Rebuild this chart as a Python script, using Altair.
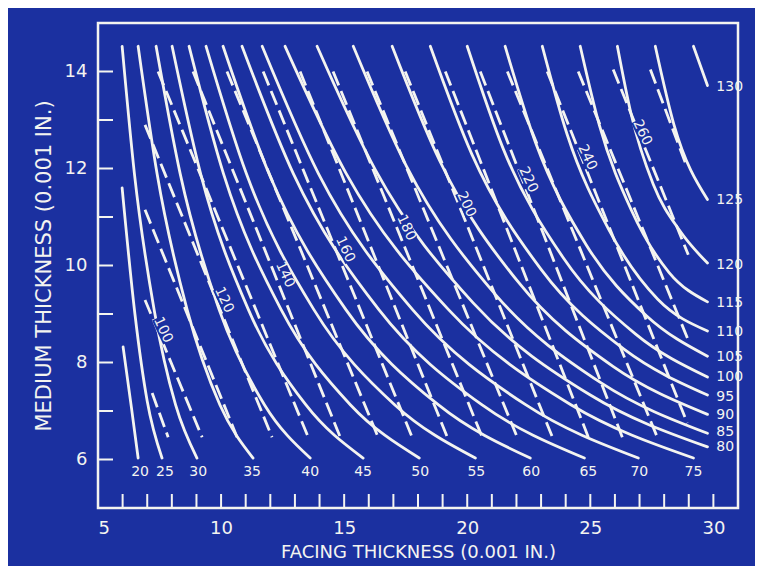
import altair as alt
import pandas as pd

BG = "#1b30a0"
FG = "#f4f4f0"
FONT = "DejaVu Sans"

# ---- solid curves (facing F, medium M) ----
S20 = [(6.02, 8.32), (6.35, 7.1), (6.63, 6.03)]
S25 = [(5.98, 11.6), (6.5, 9.0), (7.0, 7.2), (7.60, 6.03)]
S30 = [(5.98, 14.52), (6.48, 11.89), (7.28, 9.09), (8.15, 7.13), (9.02, 6.03)]
S35 = [(6.63, 14.52), (7.40, 11.89), (8.62, 9.09), (9.95, 7.13), (11.30, 6.03)]
S40 = [(7.36, 14.52), (8.34, 11.89), (9.92, 9.09), (11.76, 7.13), (13.62, 6.03)]
S45 = [(8.01, 14.52), (9.17, 11.89), (11.11, 9.09), (13.44, 7.13), (15.77, 6.03)]
S50 = [(8.70, 14.52), (10.10, 11.89), (12.44, 9.09), (15.25, 7.13), (18.05, 6.03)]
S55 = [(9.39, 14.52), (11.03, 11.89), (13.77, 9.09), (17.05, 7.13), (20.33, 6.03)]
S60 = [(10.08, 14.52), (11.95, 11.89), (15.07, 9.09), (18.82, 7.13), (22.56, 6.03)]
S65 = [(10.85, 14.52), (12.94, 11.89), (16.41, 9.09), (20.59, 7.13), (24.76, 6.03)]
S70 = [(11.67, 14.52), (13.96, 11.89), (17.78, 9.09), (22.37, 7.13), (26.95, 6.03)]
S75 = [(12.60, 14.52), (15.09, 11.89), (19.24, 9.09), (24.21, 7.13), (29.19, 6.03)]
S80 = [(13.90, 14.52), (16.28, 11.96), (20.24, 9.23), (25.0, 7.33), (29.76, 6.26)]
S85 = [(15.37, 14.52), (17.53, 12.05), (21.13, 9.41), (25.44, 7.58), (29.76, 6.54)]
S90 = [(16.95, 14.52), (18.87, 12.17), (22.07, 9.66), (25.92, 7.92), (29.76, 6.93)]
S95 = [(18.50, 14.52), (20.19, 12.29), (23.0, 9.92), (26.38, 8.27), (29.76, 7.33)]
S100 = [(20.0, 14.52), (21.46, 12.41), (23.90, 10.16), (26.83, 8.59), (29.76, 7.70)]
S105 = [(21.54, 14.52), (22.77, 12.54), (24.83, 10.43), (27.29, 8.96), (29.76, 8.13)]
S110 = [(23.05, 14.52), (24.06, 12.70), (25.73, 10.76), (27.75, 9.30), (29.76, 8.65)]
S115 = [(24.59, 14.52), (25.37, 12.89), (26.66, 11.15), (28.21, 9.85), (29.76, 9.25)]
S120 = [(26.10, 14.52), (26.65, 13.14), (27.56, 11.67), (28.66, 10.70), (29.76, 10.05)]
S125 = [(27.64, 14.52), (28.4, 12.9), (29.76, 11.36)]
S130 = [(29.19, 14.52), (29.76, 13.71)]

# ---- dashed curves ----
D90 = [(7.20, 7.37), (7.85, 6.46)]
D100 = [(6.91, 9.29), (9.23, 6.46)]
D110 = [(6.91, 11.15), (10.65, 6.46)]
D120 = [(6.91, 12.90), (12.07, 6.46)]
D130 = [(7.44, 14.0), (13.54, 6.46)]
D140 = [(8.86, 14.0), (14.84, 6.46)]
D150 = [(10.24, 14.0), (16.38, 6.46)]
D160 = [(11.71, 14.0), (17.76, 6.46)]
D170 = [(13.21, 14.0), (19.19, 6.46)]
D180 = [(14.55, 14.0), (20.61, 6.46)]
D190 = [(15.93, 14.0), (22.03, 6.46)]
D200 = [(17.48, 14.0), (23.46, 6.46)]
D210 = [(19.11, 14.0), (24.92, 6.46)]
D220 = [(20.53, 14.0), (26.30, 6.46)]
D230 = [(21.63, 14.0), (27.72, 6.46)]
D240 = [(23.25, 14.0), (28.94, 6.75)]
D250 = [(24.51, 14.0), (28.98, 8.46)]
D260 = [(25.93, 14.04), (28.98, 10.22)]
D270 = [(27.44, 14.04), (28.86, 12.12)]

# ---- labels ----
bottom_labels = [20, 25, 30, 35, 40, 45, 50, 55, 60, 65, 70, 75]
bottom_label_F = [6.71, 7.72, 9.07, 11.26, 13.62, 15.77, 18.09, 20.37, 22.60, 24.92, 26.99, 29.19]
bottom_label_M = 5.74

right_labels = [80, 85, 90, 95, 100, 105, 110, 115, 120, 125, 130]
right_label_M = [6.25, 6.56, 6.91, 7.29, 7.70, 8.11, 8.63, 9.23, 10.01, 11.36, 13.69]
right_label_F = 30.12

dash_labels = [100, 120, 140, 160, 180, 200, 220, 240, 260]
dash_label_F = [7.64, 10.12, 12.60, 15.04, 17.52, 19.96, 22.48, 24.88, 27.11]
dash_label_M = [8.67, 9.29, 9.81, 10.33, 10.78, 11.26, 11.77, 12.23, 12.74]

x_ticks = list(range(6, 31))
y_ticks = list(range(6, 15))
x_labels = [5, 10, 15, 20, 25, 30]
y_labels = [6, 8, 10, 12, 14]

solid = {"20": S20, "25": S25, "30": S30, "35": S35, "40": S40, "45": S45, "50": S50,
         "55": S55, "60": S60, "65": S65, "70": S70, "75": S75, "80": S80, "85": S85,
         "90": S90, "95": S95, "100": S100, "105": S105, "110": S110, "115": S115,
         "120": S120, "125": S125, "130": S130}
dashed = {"90": D90, "100": D100, "110": D110, "120": D120, "130": D130, "140": D140,
          "150": D150, "160": D160, "170": D170, "180": D180, "190": D190, "200": D200,
          "210": D210, "220": D220, "230": D230, "240": D240, "250": D250, "260": D260,
          "270": D270}


def to_df(curves):
    rows = []
    for name, pts in curves.items():
        for i, (f, m) in enumerate(pts):
            rows.append({"curve": name, "F": f, "M": m, "o": i})
    return pd.DataFrame(rows)


solid_df = to_df(solid)
dashed_df = to_df(dashed)
bottom_df = pd.DataFrame({"t": [str(v) for v in bottom_labels], "F": bottom_label_F,
                          "M": [bottom_label_M] * len(bottom_labels)})
right_df = pd.DataFrame({"t": [str(v) for v in right_labels], "M": right_label_M,
                         "F": [right_label_F] * len(right_labels)})
dlab_df = pd.DataFrame({"t": [str(v) for v in dash_labels], "F": dash_label_F, "M": dash_label_M})
xt_df = pd.DataFrame({"F": x_ticks})
yt_df = pd.DataFrame({"M": y_ticks})

xscale = alt.Scale(domain=[5, 31], nice=False, zero=False)
yscale = alt.Scale(domain=[5, 15], nice=False, zero=False)

X = alt.X("F:Q", scale=xscale,
          axis=alt.Axis(values=x_labels, ticks=False, domain=False, grid=False,
                        labelFontSize=18, labelColor=FG, labelPadding=11, labelFont=FONT,
                        title="FACING THICKNESS (0.001 IN.)", titleFontSize=18,
                        titleColor=FG, titlePadding=6, titleFontWeight="normal",
                        titleFont=FONT))
Y = alt.Y("M:Q", scale=yscale,
          axis=alt.Axis(values=y_labels, ticks=False, domain=False, grid=False,
                        labelFontSize=18, labelColor=FG, labelPadding=11, labelFont=FONT,
                        title="MEDIUM THICKNESS (0.001 IN.)", titleFontSize=21,
                        titleColor=FG, titlePadding=10, titleFontWeight="normal",
                        titleFont=FONT))

solid_layer = alt.Chart(solid_df).mark_line(
    color=FG, strokeWidth=2.8, interpolate="monotone", strokeCap="round"
).encode(x=X, y=Y, detail="curve:N", order="o:Q")

dashed_layer = alt.Chart(dashed_df).mark_line(
    color=FG, strokeWidth=2.8, strokeDash=[15, 6], interpolate="monotone"
).encode(x=X, y=Y, detail="curve:N", order="o:Q")

mask_layer = alt.Chart(dlab_df).mark_point(
    shape="M-1,-0.45L1,-0.45L1,0.45L-1,0.45Z", filled=True, color=BG, opacity=1,
    size=700, angle=65
).encode(x=X, y=Y)

dlab_layer = alt.Chart(dlab_df).mark_text(
    color=FG, font=FONT, fontSize=14, angle=65, align="center", baseline="middle"
).encode(x=X, y=Y, text="t:N")

bottom_layer = alt.Chart(bottom_df).mark_text(
    color=FG, font=FONT, fontSize=14, align="center", baseline="middle"
).encode(x=X, y=Y, text="t:N")

right_layer = alt.Chart(right_df).mark_text(
    color=FG, font=FONT, fontSize=14, align="left", baseline="middle"
).encode(x=X, y=Y, text="t:N")

xtick_layer = alt.Chart(xt_df).mark_rule(color=FG, strokeWidth=2).encode(
    x=X, y=alt.value(485), y2=alt.value(471))
ytick_layer = alt.Chart(yt_df).mark_rule(color=FG, strokeWidth=2).encode(
    y=Y, x=alt.value(0), x2=alt.value(15))

chart = alt.layer(
    solid_layer, dashed_layer, mask_layer, dlab_layer, bottom_layer, right_layer,
    xtick_layer, ytick_layer
).properties(
    width=640, height=485,
    background=BG,
    autosize=alt.AutoSizeParams(type="none"),
    padding={"left": 90, "top": 15, "right": 17, "bottom": 58},
).configure_view(stroke=FG, strokeWidth=2.5)

chart.save("out.html", embed_options={"renderer": "svg", "actions": False})
